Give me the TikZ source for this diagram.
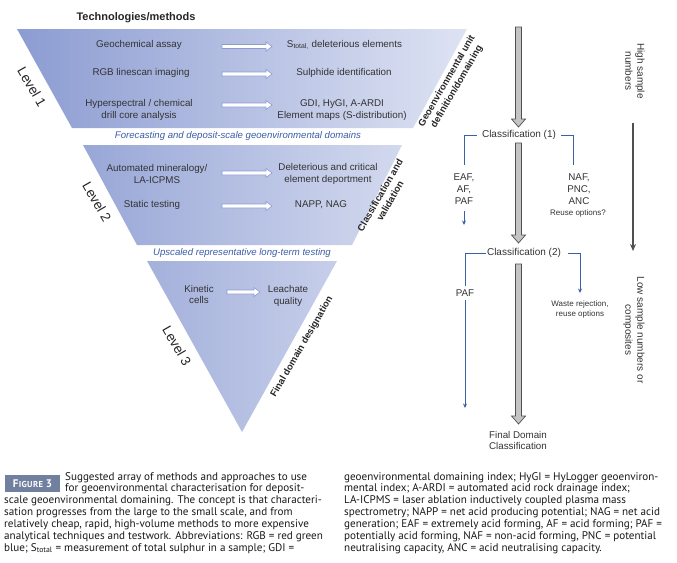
\documentclass[tikz,border=0pt]{standalone}
\usepackage{fontspec}
\setmainfont{Liberation Sans}
\newfontfamily\capfont{PT Sans}
\usetikzlibrary{arrows.meta}
\definecolor{fa}{RGB}{140,156,210}
\definecolor{fb}{RGB}{222,227,243}
\definecolor{txtc}{RGB}{51,51,51}
\definecolor{bluetxt}{RGB}{58,92,164}
\definecolor{blueline}{RGB}{60,96,165}
\definecolor{grayfill}{RGB}{196,196,196}
\definecolor{grayline}{RGB}{80,80,80}
\definecolor{warrow}{RGB}{140,156,207}
\definecolor{figbox}{RGB}{112,128,158}
\newcommand\grayarrow[3]{%
  \filldraw[fill=grayfill, draw=grayline, line width=0.7pt]
    (#1-3,#2) -- (#1+3,#2) -- (#1+3,#3-8) -- (#1+7,#3-8) -- (#1,#3) --
    (#1-7,#3-8) -- (#1-3,#3-8) -- cycle;}
\newcommand\whitearrow[3]{%
  \filldraw[fill=white, draw=warrow, line width=0.6pt]
    (#1,#3-2) -- (#2-6,#3-2) -- (#2-6,#3-4.5) -- (#2,#3) -- (#2-6,#3+4.5) --
    (#2-6,#3+2) -- (#1,#3+2) -- cycle;}
\tikzset{
  txt/.style={font=\fontsize{9.8}{11.8}\selectfont, text=txtc, align=center, inner sep=0pt},
  blu/.style={font=\fontsize{9.6}{11}\selectfont\itshape, text=bluetxt, inner sep=0pt},
  rot/.style={font=\fontsize{9.5}{11.5}\selectfont\bfseries, text=black!85, align=center, inner sep=0pt, rotate=60},
  lvl/.style={font=\fontsize{13.5}{15}\selectfont, text=black!85, inner sep=0pt, rotate=-60},
  cls/.style={font=\fontsize{10}{12}\selectfont, text=txtc, inner sep=5pt},
  smalltxt/.style={font=\fontsize{8}{10}\selectfont, text=txtc, align=center, inner sep=0pt},
  side/.style={font=\fontsize{10}{12}\selectfont, text=txtc, align=center, inner sep=0pt, rotate=-90},
  captxt/.style={font=\capfont\fontsize{11.1}{12}\selectfont, text=black!90, anchor=base west, inner sep=0pt},
  bl/.style={draw=blueline, line width=0.75pt},
  blarrow/.style={bl, -{Stealth[length=4.5pt,width=4pt]}}
}
\begin{document}
\begin{tikzpicture}[x=1pt,y=-1pt]
\useasboundingbox (0,0) rectangle (677,562);
% funnel
\shade[left color=fa, right color=fb] (17,29) -- (467,29) -- (413,128) -- (72,128) -- cycle;
\shade[left color=fb!15!fa, right color=fb!86!fa] (83,145) -- (402,145) -- (352,245) -- (137,245) -- cycle;
\shade[left color=fb!29!fa, right color=fb!71!fa] (147,261) -- (337,261) -- (242,432) -- cycle;

\node[txt, font=\fontsize{11}{13}\selectfont\bfseries, text=black!85] (title) at (136,18) {Technologies/methods};

% level 1
\node[txt] (ga) at (139,45) {Geochemical assay};
\node[txt] (st) at (344.5,45) {S\textsubscript{total,} deleterious elements};
\node[txt] (rgb) at (141,72.5) {RGB linescan imaging};
\node[txt] (sul) at (344,73) {Sulphide identification};
\node[txt] (hyp) at (139,110) {Hyperspectral / chemical\\drill core analysis};
\node[txt] (gdi) at (342,110) {GDI, HyGI, A-ARDI\\Element maps (S-distribution)};
\whitearrow{222}{272}{46.5}
\whitearrow{222}{272}{74}
\whitearrow{222}{272}{105}

% level 2
\node[txt] (am) at (157,174) {Automated mineralogy/\\LA-ICPMS};
\node[txt] (dc) at (328,174) {Deleterious and critical\\element deportment};
\node[txt] (stt) at (152,205) {Static testing};
\node[txt] (napp) at (321,205) {NAPP, NAG};
\whitearrow{222}{272}{173}
\whitearrow{222}{272}{206}

% level 3
\node[txt] (kin) at (199,294.5) {Kinetic\\cells};
\node[txt] (lea) at (288,296) {Leachate\\quality};
\whitearrow{227}{260}{292}

% blue captions
\node[blu] (fc) at (238,136) {Forecasting and deposit-scale geoenvironmental domains};
\node[blu] (up) at (242,253) {Upscaled representative long-term testing};

% rotated labels
\node[rot] (geo) at (452,84) {Geoenvironmental unit\\definition/domaining};
\node[rot] (cv) at (385,198) {Classification and\\validation};
\node[rot] (fd) at (302,347) {Final domain designation};
\node[lvl] (l1) at (32,87) {Level 1};
\node[lvl] (l2) at (97,202) {Level 2};
\node[lvl] (l3) at (177,346) {Level 3};

% right flow
\grayarrow{518.5}{27}{127}
\grayarrow{518.5}{143}{243}
\grayarrow{518.5}{264}{424}
\node[cls] (c1) at (519,135) {Classification (1)};
\node[txt] (eaf) at (464,189) {EAF,\\AF,\\PAF};
\node[txt] (naf) at (579,189) {NAF,\\PNC,\\ANC};
\node[smalltxt] (reuse) at (578,213) {Reuse options?};
\node[cls, inner xsep=1pt] (c2) at (524,253) {Classification (2)};
\node[txt, inner ysep=3pt] (paf) at (465,293) {PAF};
\node[smalltxt] (waste) at (580,309) {Waste rejection,\\reuse options};
\node[txt] (fin) at (518,440.5) {Final Domain\\Classification};
\node[side] (high) at (635,71) {High sample\\numbers};
\node[side] (low) at (634,330) {Low sample numbers or\\composites};

\coordinate (eafin) at (464,165);
\coordinate (eafo) at (464,211);
\coordinate (eafe) at (464,225);
\coordinate (nafin) at (573,165);
\coordinate (pafend) at (465,408);
\coordinate (wastein) at (580,293);
\coordinate (hs) at (633,123);
\coordinate (he) at (633,251);
\draw[bl] (c1.west) -| (eafin);
\draw[blarrow] (eafo) -- (eafe);
\draw[bl] (c1.east) -| (nafin);
\draw[bl] (c2.west) -| (paf.north);
\draw[blarrow] (paf.south) -- (pafend);
\draw[blarrow] ([xshift=6pt]c2.east) -| (wastein);
\draw[line width=1.6pt, grayline, -{Stealth[length=7pt,width=6pt]}] (hs) -- (he);

% caption
\node[fill=figbox, minimum width=55pt, minimum height=17pt, inner sep=0pt, text=white,
      font=\capfont\bfseries\fontsize{11}{12}\selectfont] (figlbl) at (32.5,483.5)
      {F\kern0.3pt{\fontsize{8.6}{9}\selectfont I\kern0.4pt G\kern0.4pt U\kern0.4pt R\kern0.4pt E}\ 3};
\node[captxt] (a1) at (65,480) {Suggested array of methods and approaches to use};
\node[captxt] (a2) at (65,491.85) {for geoenvironmental characterisation for deposit-};
\node[captxt] (a3) at (4,503.7) {scale geoenvironmental domaining. The concept is that characteri-};
\node[captxt] (a4) at (4,515.55) {sation progresses from the large to the small scale, and from};
\node[captxt] (a5) at (4,527.4) {relatively cheap, rapid, high-volume methods to more expensive};
\node[captxt] (a6) at (4,539.25) {analytical techniques and testwork. Abbreviations: RGB = red green};
\node[captxt] (a7) at (4,551.1) {blue; S\textsubscript{total} = measurement of total sulphur in a sample; GDI =};
\node[captxt] (b1) at (344,480) {geoenvironmental domaining index; HyGI = HyLogger geoenviron-};
\node[captxt] (b2) at (344,491.85) {mental index; A-ARDI = automated acid rock drainage index;};
\node[captxt] (b3) at (344,503.7) {LA-ICPMS = laser ablation inductively coupled plasma mass};
\node[captxt] (b4) at (344,515.55) {spectrometry; NAPP = net acid producing potential; NAG = net acid};
\node[captxt] (b5) at (344,527.4) {generation; EAF = extremely acid forming, AF = acid forming; PAF =};
\node[captxt] (b6) at (344,539.25) {potentially acid forming, NAF = non-acid forming, PNC = potential};
\node[captxt] (b7) at (344,551.1) {neutralising capacity, ANC = acid neutralising capacity.};
\end{tikzpicture}
\end{document}
